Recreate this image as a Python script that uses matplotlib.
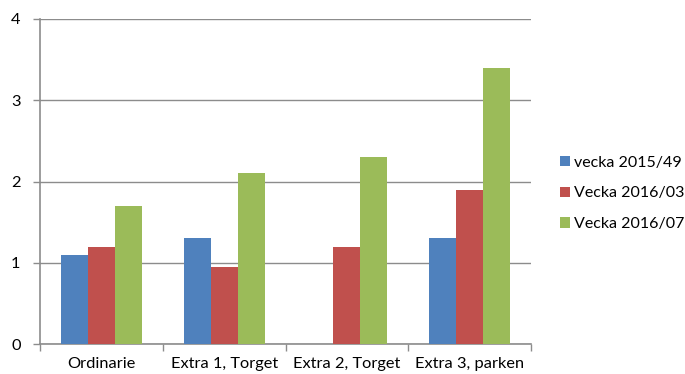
import numpy as np
import matplotlib.pyplot as plt

categories = ["Ordinarie", "Extra 1, Torget", "Extra 2, Torget", "Extra 3, parken"]
series_names = ["vecka 2015/49", "Vecka 2016/03", "Vecka 2016/07"]
v2015_49 = [1.1, 1.3, 0, 1.3]
v2016_03 = [1.2, 0.95, 1.2, 1.9]
v2016_07 = [1.7, 2.1, 2.3, 3.4]
colors = ["#4F81BD", "#C0504D", "#9BBB59"]

plt.rcParams["font.family"] = ["Lato", "DejaVu Sans"]
plt.rcParams["font.size"] = 11.8

fig = plt.figure(figsize=(6.85, 3.74), dpi=100)
ax = fig.add_axes([0.0584, 0.0802, 0.7168, 0.8690])

x = np.arange(len(categories))
w = 0.22
for i, (vals, name) in enumerate(zip([v2015_49, v2016_03, v2016_07], series_names)):
    ax.bar(x + (i - 1) * w, vals, width=w, color=colors[i], label=name, zorder=3)

ax.set_xlim(-0.5, len(categories) - 0.5)
ax.set_ylim(0, 4)
ax.set_yticks([0, 1, 2, 3, 4])
ax.yaxis.grid(True, color="#8c8c8c", linewidth=1.0, zorder=0)

# category labels centred, tick marks on the boundaries
ax.set_xticks(np.arange(-0.5, len(categories)), minor=False)
ax.set_xticklabels([])
ax.set_xticks(x, minor=True)
ax.set_xticklabels(categories, minor=True)
ax.tick_params(axis="x", which="minor", length=0, pad=9)
ax.tick_params(axis="x", which="major", length=5, color="#8c8c8c", width=1)
ax.tick_params(axis="y", length=5, color="#8c8c8c", width=1, pad=9)

for s in ["top", "right"]:
    ax.spines[s].set_visible(False)
for s in ["left", "bottom"]:
    ax.spines[s].set_color("#8c8c8c")
    ax.spines[s].set_linewidth(1.2)

fig.legend(loc="center left", bbox_to_anchor=(0.8175, 0.483), frameon=False,
           handlelength=0.6, handleheight=0.6, handletextpad=0.3,
           labelspacing=1.05, borderaxespad=0, borderpad=0, fontsize=11.5)

fig.savefig("out.png", dpi=100)
